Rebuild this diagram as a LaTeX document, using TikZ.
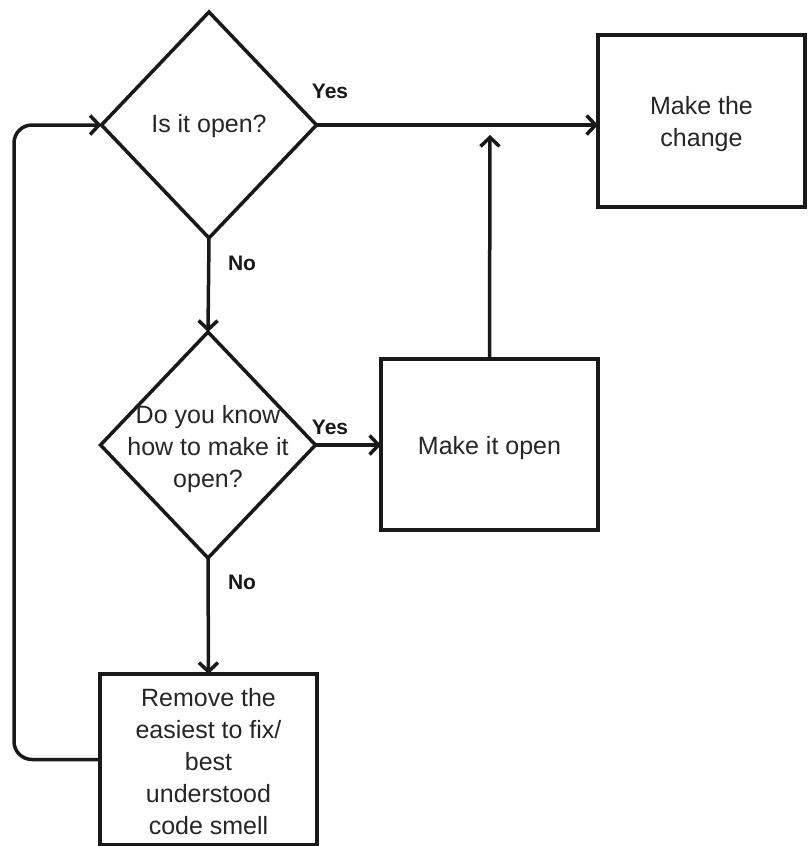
\documentclass[tikz,border=0pt]{standalone}
\usepackage{fontspec}
\setmainfont{Liberation Sans}
\usetikzlibrary{shapes.geometric,arrows.meta}
\begin{document}
\begin{tikzpicture}[x=1pt,y=-1pt,
  every node/.style={inner sep=0pt,outer sep=0pt},
  line/.style={line width=3.5pt,draw=black!90},
  conn/.style={line,-{Straight Barb[length=9pt,width=19pt,line width=3.5pt]}},
  decision/.style={diamond,line,fill=white},
  procbox/.style={rectangle,line,fill=white},
  txt/.style={align=center,text=black!85,font=\fontsize{25}{32}\selectfont},
  lbl/.style={text=black!90,font=\fontsize{21}{25}\selectfont\bfseries}]
\useasboundingbox (0,0) rectangle (807,846);
\fill[white] (0,0) rectangle (807,846);

% shapes
\node[decision,minimum width=215pt,minimum height=226pt] (d1) at (209,125) {};
\node[txt] (d1t) at (209,126) {Is it open?};
\node[decision,minimum width=215pt,minimum height=226pt] (d2) at (208,445) {};
\node[txt] (d2t) at (208,449) {Do you know\\how to make it\\open?};
\node[procbox,minimum width=207pt,minimum height=172pt] (change) at (701.5,121) {};
\node[txt] (changet) at (701.5,124) {Make the\\change};
\node[procbox,minimum width=217pt,minimum height=171pt] (open) at (489.5,444.5) {};
\node[txt] (opent) at (489.5,448) {Make it open};
\node[procbox,minimum width=217pt,minimum height=171pt] (remove) at (208.5,759.5) {};
\node[txt] (removet) at (208.5,762) {Remove the\\easiest to fix/\\best\\understood\\code smell};

% helper coordinates
\coordinate (join) at (490,135);
\coordinate (loopx) at (14,0);

% connectors
\draw[conn] (d1.east) -- (d1.east -| change.west);
\draw[conn] (open.north) -- (join);
\draw[conn] (d1.south) -- (d2.north);
\draw[conn] (d2.east) -- (d2.east -| open.west);
\draw[conn] (d2.south) -- (remove.north);
\draw[conn,rounded corners=18pt] (remove.west) -- (remove.west -| loopx) -- (d1.west -| loopx) -- (d1.west);

% labels
\node[lbl] (y1) at (330,91) {Yes};
\node[lbl] (n1) at (242,263) {No};
\node[lbl] (y2) at (330,427) {Yes};
\node[lbl] (n2) at (242,582) {No};
\end{tikzpicture}
\end{document}
